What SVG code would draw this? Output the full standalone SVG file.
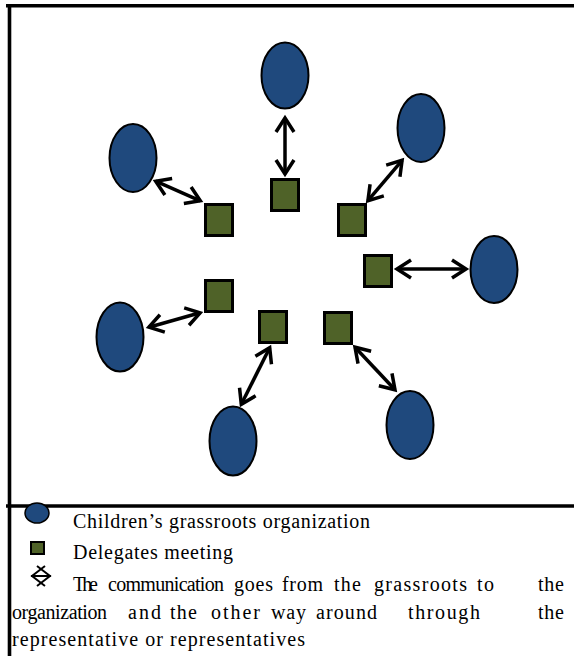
<svg xmlns="http://www.w3.org/2000/svg" width="574" height="656" viewBox="0 0 574 656">
<style>
.org{fill:#1F497D;stroke:#000;stroke-width:2}
.del{fill:#4F6228;stroke:#000;stroke-width:3}
.con{stroke:#000;stroke-width:3.5;fill:none}
.frame{stroke:#000;stroke-width:3.6}
</style>
<defs>
<marker id="ah" viewBox="-20 -13 24 26" refX="0" refY="0" markerWidth="24" markerHeight="26" markerUnits="userSpaceOnUse" orient="auto-start-reverse">
<path d="M-14,-9 L0,0 L-14,9" fill="none" stroke="#000" stroke-width="3.5"/>
</marker>
</defs>
<rect width="574" height="656" fill="#fff"/>
<g id="frame">
<line class="frame" x1="6" y1="5.8" x2="574" y2="5.8"/>
<line class="frame" x1="9.5" y1="4" x2="9.5" y2="656"/>
<line class="frame" x1="6" y1="506" x2="574" y2="506"/>
</g>
<g id="connectors">
<line class="con" x1="285" y1="118" x2="285" y2="174" marker-start="url(#ah)" marker-end="url(#ah)"/>
<line class="con" x1="367.9" y1="200.7" x2="402.1" y2="160.3" marker-start="url(#ah)" marker-end="url(#ah)"/>
<line class="con" x1="155.7" y1="181.2" x2="200.3" y2="200.8" marker-start="url(#ah)" marker-end="url(#ah)"/>
<line class="con" x1="397" y1="269" x2="466" y2="269" marker-start="url(#ah)" marker-end="url(#ah)"/>
<line class="con" x1="148.9" y1="327.2" x2="200.1" y2="312.8" marker-start="url(#ah)" marker-end="url(#ah)"/>
<line class="con" x1="269.7" y1="347.7" x2="241.3" y2="404.3" marker-start="url(#ah)" marker-end="url(#ah)"/>
<line class="con" x1="355" y1="347.2" x2="395" y2="389.8" marker-start="url(#ah)" marker-end="url(#ah)"/>
</g>
<g id="org1"><ellipse class="org" cx="285" cy="75.5" rx="23.5" ry="33"/></g>
<g id="org2"><ellipse class="org" cx="421" cy="128" rx="23.5" ry="34"/></g>
<g id="org3"><ellipse class="org" cx="133" cy="158" rx="23.5" ry="34"/></g>
<g id="org4"><ellipse class="org" cx="494" cy="269.5" rx="23.5" ry="33.5"/></g>
<g id="org5"><ellipse class="org" cx="120" cy="337" rx="23.5" ry="34.5"/></g>
<g id="org6"><ellipse class="org" cx="233" cy="441" rx="23.5" ry="34.5"/></g>
<g id="org7"><ellipse class="org" cx="410" cy="425" rx="23.5" ry="34"/></g>
<g id="del1"><rect class="del" x="271.5" y="179.5" width="27" height="31"/></g>
<g id="del2"><rect class="del" x="338.5" y="204.5" width="27" height="31"/></g>
<g id="del3"><rect class="del" x="205.5" y="204.5" width="27" height="31"/></g>
<g id="del4"><rect class="del" x="364.5" y="255.5" width="27" height="31"/></g>
<g id="del5"><rect class="del" x="205.5" y="280.5" width="27" height="31"/></g>
<g id="del6"><rect class="del" x="259.5" y="311.5" width="27" height="31"/></g>
<g id="del7"><rect class="del" x="324.5" y="312.5" width="27" height="31"/></g>
<g id="legend">
<ellipse cx="37" cy="513" rx="12" ry="10" fill="#1F497D" stroke="#000" stroke-width="1.5"/>
<rect x="31" y="542" width="13" height="12" fill="#4F6228" stroke="#000" stroke-width="2"/>
<g fill="none" stroke="#000" stroke-width="2">
<line x1="31" y1="576" x2="51" y2="576"/>
<path d="M45,566 L32,576 L45,586"/>
<path d="M37,566 L50,576 L37,586"/>
</g>
<g font-family="'Liberation Serif', 'Times New Roman', serif" font-size="20" fill="#000">
<text x="73" y="528" textLength="297" lengthAdjust="spacing">Children’s grassroots organization</text>
<text x="73" y="559" textLength="160" lengthAdjust="spacing">Delegates meeting</text>
<text y="591"><tspan x="73" textLength="25">The</tspan><tspan x="108" textLength="116">communication</tspan><tspan x="234" textLength="39">goes</tspan><tspan x="282" textLength="41">from</tspan><tspan x="334" textLength="27">the</tspan><tspan x="374" textLength="93">grassroots</tspan><tspan x="477" textLength="17">to</tspan><tspan x="538" textLength="26">the</tspan></text>
<text y="619"><tspan x="12" textLength="95">organization</tspan><tspan x="128" textLength="33">and</tspan><tspan x="170" textLength="27">the</tspan><tspan x="211" textLength="49">other</tspan><tspan x="271" textLength="35">way</tspan><tspan x="316" textLength="61">around</tspan><tspan x="408" textLength="72">through</tspan><tspan x="538" textLength="26">the</tspan></text>
<text x="12" y="646" textLength="293" lengthAdjust="spacing">representative or representatives</text>
</g>
</g>
</svg>
